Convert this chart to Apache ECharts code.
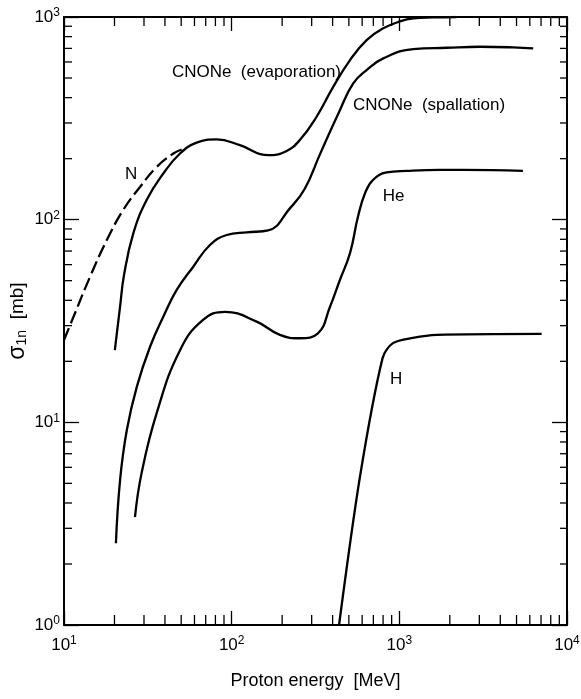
<!DOCTYPE html>
<html>
<head>
<meta charset="utf-8">
<script src="https://cdn.jsdelivr.net/npm/echarts@6/dist/echarts.min.js"></script>
<style>html,body{margin:0;padding:0;background:#fff}#c{width:581px;height:699px}</style>
</head>
<body>
<div id="c"></div>
<script>
// ---- data (proton energy in MeV, cross section in mb) ----
const evapE  = [20.1, 21.6, 22.8, 25.9, 31.1, 39.1, 49.2, 61.8, 81.4, 112, 165, 210, 255, 321, 404, 508, 638, 802, 1009, 1211, 1592, 2200];
const evapS  = [22.7, 37.2, 53.3, 85.5, 125, 169, 212, 240, 249, 233, 208, 217, 247, 322, 453, 613, 769, 879, 951, 984, 995, 1000];
const nDashE = [10, 11.4, 14.3, 18.0, 22.6, 28.4, 35.7, 44.9, 50.3];
const nDashS = [25.5, 33.2, 52.3, 79.3, 112, 145, 182, 212, 222];
const spallE = [20.4, 21.6, 23.7, 27.2, 32.6, 39.1, 47.0, 59.0, 74.2, 93.4, 123, 165, 223, 273, 336, 442, 531, 638, 802, 1211, 1916, 3027, 4780, 6287];
const spallS = [2.53, 5.19, 9.16, 15.0, 23.6, 33.2, 45.0, 58.6, 75.0, 84.0, 86.6, 88.5, 114, 142, 210, 347, 470, 547, 625, 695, 705, 713, 708, 700];
const heE    = [26.5, 29.0, 35.7, 49.2, 67.5, 91.2, 141, 194, 255, 327, 386, 442, 508, 566, 624, 696, 840, 1106, 1745, 2393, 5460];
const heS    = [3.41, 5.6, 11.1, 22.7, 32.0, 35.1, 31.4, 27.0, 26.0, 27.5, 37.2, 50.4, 68.4, 103, 135, 157, 171, 174, 176, 176, 174];
const hE     = [437, 582, 795, 916, 1205, 1675, 7060];
const hS     = [1, 5.37, 20.8, 24.6, 26.1, 27.0, 27.3];

// annotations: text and anchor (left edge) in data space
const annText = ['CNONe  (evaporation)', 'CNONe  (spallation)', 'N', 'He', 'H'];
const annE    = [44.0, 529, 23.1, 795, 879];
const annS    = [535, 368, 168, 131, 16.3];

const xMinorTicks = [20,30,40,50,60,70,80,90, 200,300,400,500,600,700,800,900, 2000,3000,4000,5000,6000,7000,8000,9000];
const yMinorTicks = [2,3,4,5,6,7,8,9, 20,30,40,50,60,70,80,90, 200,300,400,500,600,700,800,900];

const xTitle = 'Proton energy  [MeV]';
const yTitleSym = 'σ', yTitleSub = '1n', yTitleUnit = '  [mb]';

// ---- chart ----
const FONT = "'Liberation Sans',Arial,sans-serif";
const pairs = (a, b) => a.map((v, i) => [v, b[i]]);
const XMIN = 10, XMAX = 10000, YMIN = 1, YMAX = 1000;

const powLabel = {
  formatter: v => '{b|10}{s|' + Math.round(Math.log10(v)) + '}',
  rich: {
    b: { fontSize: 17, fontFamily: FONT, color: '#000', lineHeight: 20 },
    s: { fontSize: 12, fontFamily: FONT, color: '#000', verticalAlign: 'top', lineHeight: 12 }
  }
};
const lineSt = { color: '#000', width: 2 };
const tickSt = { color: '#000', width: 1.3 };

function mkX(pos, labels) {
  return {
    type: 'log', logBase: 10, min: XMIN, max: XMAX, position: pos, gridIndex: 0,
    axisLine: { show: true, onZero: false, lineStyle: lineSt },
    axisTick: { show: true, inside: true, length: 14, lineStyle: tickSt },
    splitLine: { show: false }, minorTick: { show: false },
    axisLabel: labels ? Object.assign({ show: true, margin: 10 }, powLabel) : { show: false },
    name: labels ? xTitle : '', nameLocation: 'middle', nameGap: 47, nameMoveOverlap: false,
    nameTextStyle: { fontSize: 18, fontFamily: FONT, color: '#000' }
  };
}
function mkY(pos, labels) {
  return {
    type: 'log', logBase: 10, min: YMIN, max: YMAX, position: pos, gridIndex: 0,
    axisLine: { show: true, onZero: false, lineStyle: lineSt },
    axisTick: { show: true, inside: true, length: 15, lineStyle: tickSt },
    splitLine: { show: false }, minorTick: { show: false },
    axisLabel: labels ? Object.assign({ show: true, margin: 4 }, powLabel) : { show: false },
    name: labels ? '{g|' + yTitleSym + '}{sub|' + yTitleSub + '}{t|' + yTitleUnit + '}' : '',
    nameLocation: 'middle', nameGap: 35, nameMoveOverlap: false,
    nameTextStyle: {
      rich: {
        g: { fontSize: 23, fontFamily: FONT, color: '#000' },
        sub: { fontSize: 14, fontFamily: FONT, color: '#000', verticalAlign: 'bottom' },
        t: { fontSize: 19, fontFamily: FONT, color: '#000' }
      }
    }
  };
}

function curve(e, s, dashed, sm) {
  return {
    type: 'line', xAxisIndex: 0, yAxisIndex: 0, data: pairs(e, s),
    showSymbol: false, symbol: 'none', smooth: sm,
    lineStyle: { color: '#000', width: 2.3, type: dashed ? [13, 5] : 'solid', cap: 'butt' },
    silent: true, z: 2
  };
}

const chart = echarts.init(document.getElementById('c'), null, { renderer: 'canvas' });
chart.setOption({
  animation: false,
  backgroundColor: '#fff',
  grid: { left: 64, right: 14, top: 17, bottom: 74, containLabel: false, outerBoundsMode: 'none' },
  xAxis: [mkX('bottom', true), mkX('top', false)],
  yAxis: [mkY('left', true), mkY('right', false)],
  series: [
    curve(evapE, evapS, false, 0.45),
    curve(nDashE, nDashS, true, 0.45),
    curve(spallE, spallS, false, 0.45),
    curve(heE, heS, false, 0.45),
    curve(hE, hS, false, 0.3),
    {
      type: 'custom', xAxisIndex: 0, yAxisIndex: 0, silent: true, clip: false, z: 3,
      data: xMinorTicks.map(v => [v, YMIN]),
      renderItem: (p, api) => {
        const v = api.value(0);
        const b = api.coord([v, YMIN]), t = api.coord([v, YMAX]);
        return { type: 'group', children: [
          { type: 'line', shape: { x1: b[0], y1: b[1], x2: b[0], y2: b[1] - 10 }, style: { stroke: '#000', lineWidth: 1.3 } },
          { type: 'line', shape: { x1: t[0], y1: t[1], x2: t[0], y2: t[1] + 9 }, style: { stroke: '#000', lineWidth: 1.3 } }
        ] };
      }
    },
    {
      type: 'custom', xAxisIndex: 0, yAxisIndex: 0, silent: true, clip: false, z: 3,
      data: yMinorTicks.map(v => [XMIN, v]),
      renderItem: (p, api) => {
        const v = api.value(1);
        const l = api.coord([XMIN, v]), r = api.coord([XMAX, v]);
        return { type: 'group', children: [
          { type: 'line', shape: { x1: l[0], y1: l[1], x2: l[0] + 8, y2: l[1] }, style: { stroke: '#000', lineWidth: 1.3 } },
          { type: 'line', shape: { x1: r[0], y1: r[1], x2: r[0] - 7, y2: r[1] }, style: { stroke: '#000', lineWidth: 1.3 } }
        ] };
      }
    },
    {
      type: 'custom', xAxisIndex: 0, yAxisIndex: 0, silent: true, clip: false, z: 4,
      data: annText.map((t, i) => [annE[i], annS[i], i]),
      renderItem: (p, api) => {
        const pt = api.coord([api.value(0), api.value(1)]);
        return {
          type: 'text', x: pt[0], y: pt[1],
          style: {
            text: annText[p.dataIndex], fill: '#000',
            font: '17px ' + FONT, align: 'left', verticalAlign: 'middle'
          }
        };
      }
    }
  ]
});
</script>
</body>
</html>
